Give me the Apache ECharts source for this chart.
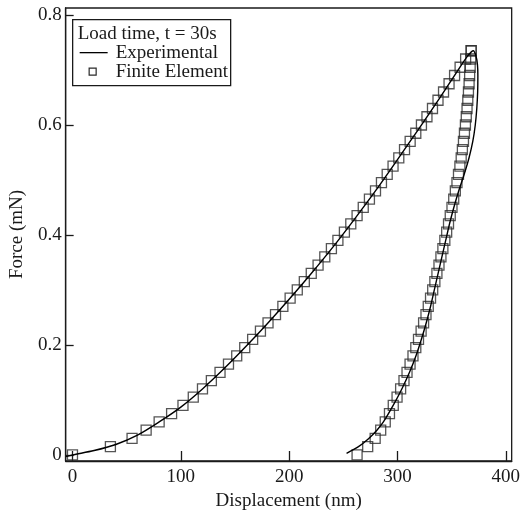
<!DOCTYPE html>
<html>
<head>
<meta charset="utf-8">
<script src="https://cdn.jsdelivr.net/npm/echarts@6/dist/echarts.min.js"></script>
<style>
  html, body { margin: 0; padding: 0; background: #fff; }
  #chart { width: 523px; height: 519px; }
</style>
</head>
<body>
<div id="chart"></div>
<script>
// Finite element results: same force levels on loading and unloading
const feForce = [0, 0.015, 0.030, 0.045, 0.060, 0.075, 0.090, 0.105, 0.120, 0.135,
  0.150, 0.165, 0.180, 0.195, 0.210, 0.225, 0.240, 0.255, 0.270, 0.285,
  0.300, 0.315, 0.330, 0.345, 0.360, 0.375, 0.390, 0.405, 0.420, 0.435,
  0.450, 0.465, 0.480, 0.495, 0.510, 0.525, 0.540, 0.555, 0.570, 0.585,
  0.600, 0.615, 0.630, 0.645, 0.660, 0.675, 0.690, 0.705, 0.720, 0.735];
const feLoadDisp = [0, 35, 55, 68, 80, 91.5, 102, 111.5, 120, 128.2,
  136.2, 144, 151.6, 159, 166.3, 173.5, 180.5, 187.4, 194.2, 200.9,
  207.5, 214, 220.4, 226.7, 232.9, 239, 245, 251, 256.9, 262.7,
  268.4, 274.1, 279.7, 285.2, 290.5, 295.9, 301.2, 306.5, 311.7, 316.9,
  322.1, 327.2, 332.3, 337.4, 342.5, 347.6, 352.7, 357.8, 362.9, 368];
const feUnloadDisp = [262.7, 272.5, 279.4, 284.5, 288.7, 292.6, 296.1, 299.6, 302.9, 306.0,
  308.8, 311.6, 314.3, 316.9, 319.4, 321.8, 324.1, 326.3, 328.4, 330.5,
  332.5, 334.5, 336.4, 338.3, 340.1, 341.9, 343.7, 345.4, 347.1, 348.7,
  350.3, 351.9, 353.4, 354.9, 356.3, 357.6, 358.8, 359.9, 360.9, 361.8,
  362.7, 363.5, 364.2, 364.9, 365.5, 366.1, 366.6, 367.1, 367.6, 368];

// Experimental curve (loading, then unloading)
const expLoadDisp  = [-6, 0, 20, 40, 60, 80, 100, 120, 140, 160, 180, 200, 220, 240, 260, 280, 300, 320, 340, 355, 365, 370];
const expLoadForce = [-0.003, 0, 0.008, 0.019, 0.036, 0.060, 0.087, 0.120, 0.157, 0.197, 0.239, 0.283, 0.329, 0.377, 0.428, 0.481, 0.537, 0.594, 0.652, 0.697, 0.726, 0.735];
const expUnloadDisp  = [372.5, 373.8, 374.2, 374, 373.2, 371.8, 369.5, 366, 361.5, 356.5, 352, 348, 344.5, 341, 337.5, 334, 330.5, 326.5, 322, 317, 311, 304, 296, 287, 281, 273.5, 264, 253];
const expUnloadForce = [0.725, 0.71, 0.69, 0.66, 0.63, 0.60, 0.57, 0.54, 0.51, 0.48, 0.45, 0.42, 0.39, 0.36, 0.33, 0.30, 0.27, 0.24, 0.21, 0.18, 0.15, 0.12, 0.09, 0.06, 0.045, 0.03, 0.015, 0.003];

const xTicks = [0, 100, 200, 300, 400];
const yTicks = [0, 0.2, 0.4, 0.6, 0.8];

const FONT = 'Liberation Serif';
const INK = '#1a1a1a';

const expData = expLoadDisp.map((h, i) => [h, expLoadForce[i]])
  .concat(expUnloadDisp.map((h, i) => [h, expUnloadForce[i]]));
const feData = feLoadDisp.map((h, i) => [h, feForce[i]])
  .concat(feUnloadDisp.map((h, i) => [h, feForce[i]]));

const chart = echarts.init(document.getElementById('chart'), null, { renderer: 'canvas' });
chart.setOption({
  backgroundColor: '#fff',
  animation: false,
  grid: { left: 60, top: 8, right: 9, bottom: 58, show: true, borderColor: INK, borderWidth: 1.3 },
  xAxis: {
    type: 'value', min: -6.3, max: 405.4,
    name: 'Displacement (nm)', nameLocation: 'middle', nameGap: 23,
    nameTextStyle: { fontFamily: FONT, fontSize: 19, color: INK },
    axisLine: { show: true, onZero: false, lineStyle: { color: INK, width: 1.3 } },
    axisTick: { show: true, inside: true, length: 10, customValues: xTicks, lineStyle: { color: INK, width: 1.3 } },
    axisLabel: { customValues: xTicks, margin: 7, fontFamily: FONT, fontSize: 19, color: INK },
    splitLine: { show: false }
  },
  yAxis: {
    type: 'value', min: -0.011, max: 0.8127,
    name: 'Force (mN)', nameLocation: 'middle', nameGap: 31, nameRotate: 90,
    nameTextStyle: { fontFamily: FONT, fontSize: 19, color: INK },
    axisLine: { show: true, onZero: false, lineStyle: { color: INK, width: 1.3 } },
    axisTick: { show: true, inside: true, length: 8, customValues: yTicks, lineStyle: { color: INK, width: 1.3 } },
    axisLabel: { customValues: yTicks, margin: 4, fontFamily: FONT, fontSize: 19, color: INK,
      formatter: v => (v === 0 ? '0' : String(+v.toFixed(1))) },
    splitLine: { show: false }
  },
  series: [
    {
      name: 'Finite Element', type: 'scatter', data: feData,
      symbol: 'rect', symbolSize: 10,
      itemStyle: { color: 'rgba(0,0,0,0)', borderColor: '#2a2a2a', borderWidth: 1.3 },
      z: 2
    },
    {
      name: 'Experimental', type: 'line', data: expData,
      showSymbol: false, smooth: 0.3,
      lineStyle: { color: '#000', width: 1.4 },
      z: 3
    }
  ],
  graphic: [
    {
      type: 'group', left: 72, top: 19, z: 10,
      children: [
        { type: 'rect', shape: { x: 0, y: 0, width: 158, height: 66 },
          style: { fill: '#fff', stroke: INK, lineWidth: 1.3 } },
        { type: 'text', x: 5, y: 14,
          style: { text: 'Load time, t = 30s', font: '19px "Liberation Serif"', fill: INK, verticalAlign: 'middle' } },
        { type: 'line', shape: { x1: 7, y1: 33, x2: 35, y2: 33 },
          style: { stroke: '#000', lineWidth: 1.3 } },
        { type: 'text', x: 43, y: 33,
          style: { text: 'Experimental', font: '19px "Liberation Serif"', fill: INK, verticalAlign: 'middle' } },
        { type: 'rect', shape: { x: 16.5, y: 48.5, width: 7, height: 7 },
          style: { fill: 'none', stroke: '#2a2a2a', lineWidth: 1.2 } },
        { type: 'text', x: 43, y: 52,
          style: { text: 'Finite Element', font: '19px "Liberation Serif"', fill: INK, verticalAlign: 'middle' } }
      ]
    }
  ]
});
</script>
</body>
</html>
